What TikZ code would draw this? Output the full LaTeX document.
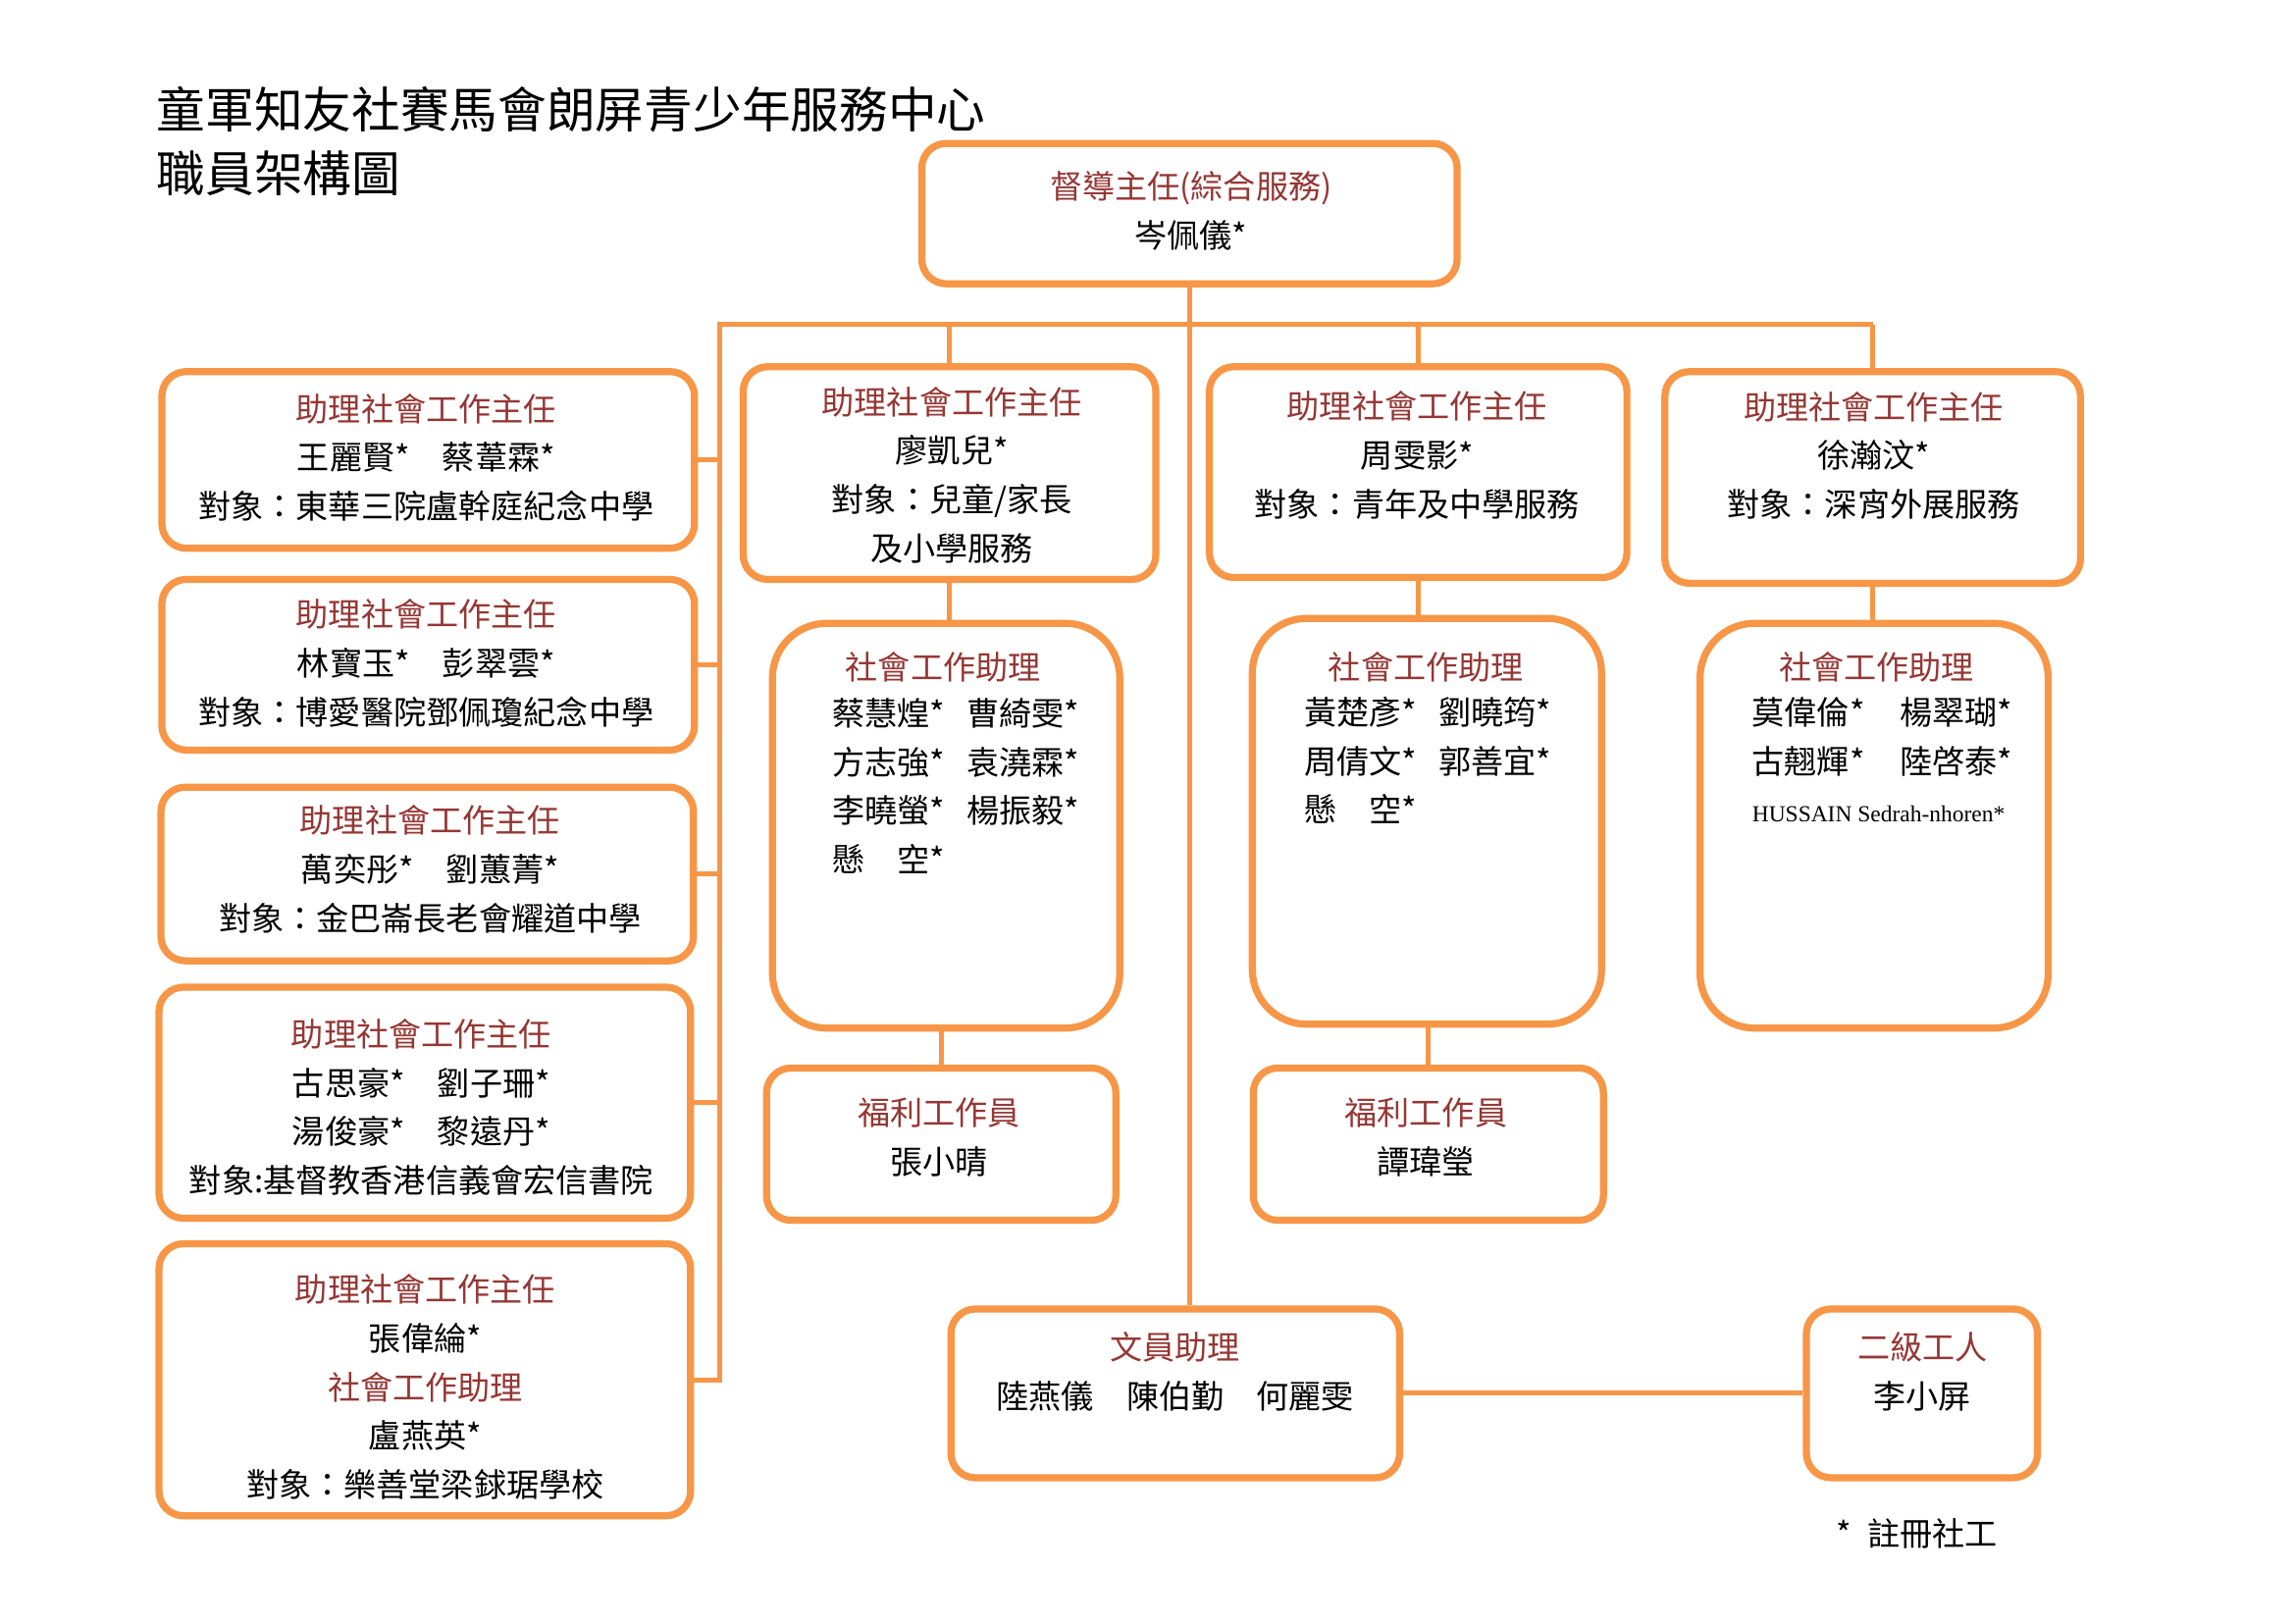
\documentclass[tikz,border=0pt]{standalone}
\usepackage{fontspec}
\newfontfamily\cjk{Noto Sans CJK TC}
\newfontfamily\latinserif{Liberation Serif}
\definecolor{boxorange}{HTML}{F79646}
\definecolor{rolered}{HTML}{953734}

\begin{document}
\begin{tikzpicture}[x=0.36pt, y=-0.36pt, scale=0.994, transform shape,
            staffbox/.style={draw=boxorange, line width=2.6pt, rounded corners=9pt, fill=white, inner sep=0pt},
            tallbox/.style={staffbox, rounded corners=20pt},
            stafftext/.style={font=\cjk\fontsize{12}{18}\selectfont, align=center, inner sep=0pt},
            link/.style={draw=boxorange, line width=1.8pt}]
            \fill[white] (0,0) rectangle (2353,1664);
            \node[anchor=west, align=left, inner sep=0pt, font=\cjk\fontsize{18}{23.4}\selectfont] (title) at (160,144.5) {童軍知友社賽馬會朗屏青少年服務中心\\職員架構圖};

            % top
            \node[staffbox, minimum width=197.6pt, minimum height=51.8pt] (top) at (1219.5,219) {};
            \node[stafftext] (topt) at (1221,216) {\textcolor{rolered}{督導主任(綜合服務)}\\岑佩儀*};

            % left column
            \node[staffbox, minimum width=196.6pt, minimum height=65.2pt] (l1) at (439,471.5) {};
            \node[stafftext] (l1t) at (437,469) {\textcolor{rolered}{助理社會工作主任}\\王麗賢*　蔡葦霖*\\對象：東華三院盧幹庭紀念中學};
            \node[staffbox, minimum width=196.6pt, minimum height=63pt] (l2) at (439,681.5) {};
            \node[stafftext] (l2t) at (437,680) {\textcolor{rolered}{助理社會工作主任}\\林寶玉*　彭翠雲*\\對象：博愛醫院鄧佩瓊紀念中學};
            \node[staffbox, minimum width=196.6pt, minimum height=64.1pt] (l3) at (438,896) {};
            \node[stafftext] (l3t) at (441,891) {\textcolor{rolered}{助理社會工作主任}\\萬奕彤*　劉蕙菁*\\對象：金巴崙長老會耀道中學};
            \node[staffbox, minimum width=196.2pt, minimum height=85.3pt] (l4) at (435.5,1130.5) {};
            \node[stafftext] (l4t) at (432,1135) {\textcolor{rolered}{助理社會工作主任}\\古思豪*　劉子珊*\\湯俊豪*　黎遠丹*\\對象:基督教香港信義會宏信書院};
            \node[staffbox, minimum width=196.2pt, minimum height=100.4pt] (l5) at (435.5,1414.5) {};
            \node[stafftext] (l5t) at (436,1422) {\textcolor{rolered}{助理社會工作主任}\\張偉綸*\\\textcolor{rolered}{社會工作助理}\\盧燕英*\\對象：樂善堂梁銶琚學校};

            % second column
            \node[staffbox, minimum width=152.3pt, minimum height=78.5pt] (m1) at (973.5,485) {};
            \node[stafftext] (m1t) at (976,487) {\textcolor{rolered}{助理社會工作主任}\\廖凱兒*\\對象：兒童/家長\\及小學服務};
            \node[tallbox, minimum width=128.2pt, minimum height=149.4pt] (m2) at (970,846.5) {};
            \node[stafftext, text=rolered] (m2t) at (967,684) {社會工作助理};
            \node[stafftext] (m2n) at (980,809) {\begin{tabular}{@{}l@{\hspace{8pt}}l@{}}蔡慧煌* & 曹綺雯*\\方志強* & 袁澆霖*\\李曉螢* & 楊振毅*\\懸　空* & \end{tabular}};
            \node[staffbox, minimum width=128.9pt, minimum height=56.2pt] (m3) at (965,1173) {};
            \node[stafftext] (m3t) at (963,1166) {\textcolor{rolered}{福利工作員}\\張小晴};

            % third column
            \node[staffbox, minimum width=154.1pt, minimum height=77.8pt] (n1) at (1454,484) {};
            \node[stafftext] (n1t) at (1453,467) {\textcolor{rolered}{助理社會工作主任}\\周雯影*\\對象：青年及中學服務};
            \node[tallbox, minimum width=128.9pt, minimum height=149.8pt] (n2) at (1463,842) {};
            \node[stafftext, text=rolered] (n2t) at (1462,684) {社會工作助理};
            \node[stafftext] (n2n) at (1464,783) {\begin{tabular}{@{}l@{\hspace{8pt}}l@{}}黃楚彥* & 劉曉筠*\\周倩文* & 郭善宜*\\懸　空* & \end{tabular}};
            \node[staffbox, minimum width=129.2pt, minimum height=56.2pt] (n3) at (1464.5,1173) {};
            \node[stafftext] (n3t) at (1462,1166) {\textcolor{rolered}{福利工作員}\\譚瑋瑩};

            % fourth column
            \node[staffbox, minimum width=153.4pt, minimum height=78.1pt] (r1) at (1920,489.5) {};
            \node[stafftext] (r1t) at (1921,467) {\textcolor{rolered}{助理社會工作主任}\\徐瀚汶*\\對象：深宵外展服務};
            \node[tallbox, minimum width=128.5pt, minimum height=149.4pt] (r2) at (1921.5,846.5) {};
            \node[stafftext, text=rolered] (r2t) at (1924,684) {社會工作助理};
            \node[stafftext] (r2n) at (1930,758) {\begin{tabular}{@{}l@{\hspace{13pt}}l@{}}莫偉倫* & 楊翠瑚*\\古翹輝* & 陸啓泰*\end{tabular}};
            \node[inner sep=0pt, font=\latinserif\fontsize{8.5}{10}\selectfont] (r2h) at (1926,834) {HUSSAIN Sedrah-nhoren*};

            % bottom row
            \node[staffbox, minimum width=165.6pt, minimum height=62.3pt] (c) at (1205,1428.5) {};
            \node[stafftext] (ct) at (1205,1406) {\textcolor{rolered}{文員助理}\\陸燕儀　陳伯勤　何麗雯};
            \node[staffbox, minimum width=85.3pt, minimum height=62.3pt] (w) at (1970.5,1428.5) {};
            \node[stafftext] (wt) at (1971,1406) {\textcolor{rolered}{二級工人}\\李小屏};
            \node[stafftext] (note) at (1965,1572) {*\hspace{6pt}註冊社工};

            % connectors
            \coordinate (busL) at (738,333);
            \draw[link] (busL -| r1.north) -- (busL) -- (busL |- l5.east) -- (l5.east);
            \foreach \b in {l1,l2,l3,l4} {
                \draw[link] (busL |- \b.east) -- (\b.east);
            }
            \foreach \b in {m1,n1,r1} {
                \draw[link] (busL -| \b.north) -- (\b.north);
            }
            \draw[link] (top.south) -- (top.south |- c.north);
            \draw[link] (m1.south) -- (m1.south |- m2.north);
            \draw[link] (m3.north |- m2.south) -- (m3.north);
            \draw[link] (n1.south) -- (n1.south |- n2.north);
            \draw[link] (n3.north |- n2.south) -- (n3.north);
            \draw[link] (r1.south) -- (r1.south |- r2.north);
            \draw[link] (c.east) -- (w.west);
        \end{tikzpicture}
\end{document}
